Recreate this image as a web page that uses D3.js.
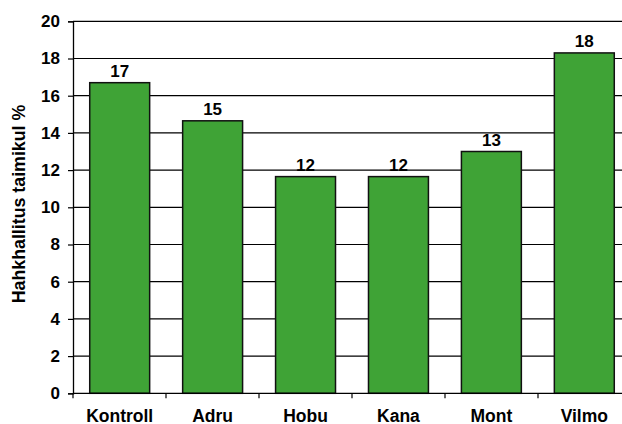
<!DOCTYPE html>
<html>
<head>
<meta charset="utf-8">
<script src="https://cdn.jsdelivr.net/npm/d3@7"></script>
<style>
  body { margin: 0; background: #fff; }
  text { font-family: "Liberation Sans", Arial, sans-serif; font-weight: bold; }
</style>
</head>
<body>
<div id="chart"></div>
<script>
// values
var categories = ["Kontroll", "Adru", "Hobu", "Kana", "Mont", "Vilmo"];
var values = [16.7, 14.65, 11.65, 11.65, 13.0, 18.3];
var labels = ["17", "15", "12", "12", "13", "18"];
var yTicks = [0, 2, 4, 6, 8, 10, 12, 14, 16, 18, 20];
var yTitle = "Hahkhallitus taimikul %";

function drawBars(selector) {
    var width = 622, height = 424;
    var left = 73, right = 631, top = 21.3, bottom = 393.3;

    var svg = d3.select(selector)
        .append("svg")
        .attr("width", width)
        .attr("height", height)

    var x = d3.scaleBand()
        .domain(categories)
        .range([left, right])
        .paddingInner(0.355)
        .paddingOuter(0.18)

    var y = d3.scaleLinear()
        .domain([0, 20])
        .range([bottom, top])

    // gridlines
    svg.append("g")
        .selectAll("line")
        .data(yTicks.filter(function(d){ return d > 0 }))
        .enter().append("line")
            .attr("x1", left)
            .attr("x2", right)
            .attr("y1", function(d){ return y(d) })
            .attr("y2", function(d){ return y(d) })
            .attr("stroke", "#000")
            .attr("stroke-width", 1.2)

    // y axis
    var yAxis = d3.axisLeft(y).tickValues(yTicks).tickSize(5).tickPadding(8)
    var gy = svg.append("g")
        .attr("transform", "translate(" + left + ",0)")
        .call(yAxis)
    gy.select(".domain").attr("stroke", "#000").attr("stroke-width", 1.3)
    gy.selectAll(".tick line").attr("stroke", "#000").attr("stroke-width", 1.2)
    gy.selectAll(".tick text")
        .attr("font-size", "17px")
        .attr("font-family", "Liberation Sans, Arial, sans-serif")
        .attr("font-weight", "bold")
        .attr("fill", "#000")

    // bars
    svg.append("g")
        .selectAll("rect")
        .data(values)
        .enter().append("rect")
            .attr("x", function(d, i){ return x(categories[i]) })
            .attr("y", function(d){ return y(d) })
            .attr("width", x.bandwidth())
            .attr("height", function(d){ return y(0) - y(d) })
            .attr("fill", "#3fa336")
            .attr("stroke", "#111")
            .attr("stroke-width", 1.5)

    // value labels
    svg.append("g")
        .selectAll("text")
        .data(values)
        .enter().append("text")
            .attr("x", function(d, i){ return x(categories[i]) + x.bandwidth() / 2 })
            .attr("y", function(d){ return y(d) - 5.5 })
            .attr("text-anchor", "middle")
            .attr("font-size", "17px")
            .text(function(d, i){ return labels[i] })

    // x axis
    svg.append("line")
        .attr("x1", left).attr("x2", right)
        .attr("y1", bottom).attr("y2", bottom)
        .attr("stroke", "#000").attr("stroke-width", 1.3)

    var boundaries = d3.range(categories.length + 1).map(function(i){
        return left + i * (right - left) / categories.length
    })
    svg.append("g")
        .selectAll("line")
        .data(boundaries)
        .enter().append("line")
            .attr("x1", function(d){ return d })
            .attr("x2", function(d){ return d })
            .attr("y1", bottom)
            .attr("y2", bottom + 5)
            .attr("stroke", "#000")
            .attr("stroke-width", 1.2)

    svg.append("g")
        .selectAll("text")
        .data(categories)
        .enter().append("text")
            .attr("x", function(d){ return x(d) + x.bandwidth() / 2 })
            .attr("y", 421.5)
            .attr("text-anchor", "middle")
            .attr("font-size", "17.5px")
            .text(function(d){ return d })

    // y title
    svg.append("text")
        .attr("transform", "translate(25," + 204 + ") rotate(-90)")
        .attr("text-anchor", "middle")
        .attr("font-size", "17.8px")
        .text(yTitle)
}

drawBars("#chart")
</script>
</body>
</html>
